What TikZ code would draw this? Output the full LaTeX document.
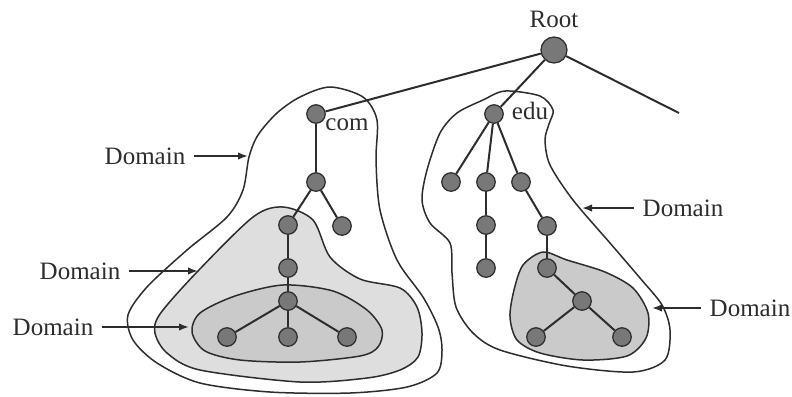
\documentclass[tikz,border=0pt]{standalone}
\usepackage{fontspec}
\setmainfont{Liberation Serif}
\usetikzlibrary{arrows.meta}
\definecolor{hostgray}{RGB}{120,120,120}
\definecolor{lightdom}{RGB}{222,222,222}
\definecolor{darkdom}{RGB}{202,202,202}
\definecolor{inkgray}{RGB}{45,45,45}
\begin{document}
\begin{tikzpicture}[x=0.4pt, y=-0.4pt,
  dom/.style={draw=inkgray, line width=0.6pt},
  host/.style={circle, draw=inkgray, fill=hostgray, line width=0.5pt,
    inner sep=0pt, minimum size=7.4pt},
  link/.style={draw=inkgray, line width=0.8pt},
  lbl/.style={font=\fontsize{10}{12}\selectfont, text=inkgray},
  arr/.style={-{Latex[length=4pt,width=3pt]}, draw=inkgray, line width=0.7pt}
]
\useasboundingbox (0,0) rectangle (792,396);
% domains
\draw[dom] plot[smooth cycle] coordinates {(330,87) (363,97) (377,120) (376,160)
  (380,210) (397,260) (423,297) (438,327) (442,350) (437,373) (407,387) (350,393)
  (270,392) (200,383) (157,363) (133,340) (128,315) (147,287) (187,250) (227,217)
  (243,190) (249,157) (258,135) (277,113) (300,97)};
\draw[dom, fill=lightdom] plot[smooth cycle] coordinates {(283,207) (313,220)
  (330,257) (360,279) (400,288) (417,307) (422,333) (418,357) (400,370) (367,378)
  (300,382) (200,370) (167,353) (155,333) (160,314) (197,272) (253,217)};
\draw[dom, fill=darkdom] plot[smooth cycle] coordinates {(283,285) (333,291)
  (367,310) (382,330) (378,347) (360,356) (300,362) (240,360) (205,351) (192,332)
  (200,313) (235,296)};
\draw[dom] plot[smooth cycle] coordinates {(505,91) (540,96) (553,110) (549,124)
  (545,140) (550,165) (573,200) (610,243) (640,278) (662,305) (670,330) (665,360)
  (633,372) (567,366) (500,350) (473,333) (456,307) (452,273) (450,243) (430,223)
  (422,200) (427,170) (440,133) (457,113) (483,100)};
\draw[dom, fill=darkdom] plot[smooth cycle] coordinates {(543,252) (567,260)
  (605,272) (633,288) (648,313) (646,338) (627,356) (583,360) (540,353) (517,340)
  (510,317) (514,290) (523,265)};
% hosts
\node[host, minimum size=10.4pt] (root) at (554,50) {};
\node[host] (com) at (316,114) {};
\node[host] (c1) at (316,182) {};
\node[host] (c2) at (288,225) {};
\node[host] (c3) at (342,226) {};
\node[host] (c4) at (288,268) {};
\node[host] (c5) at (288,301) {};
\node[host] (c6) at (227,337) {};
\node[host] (c7) at (288,337) {};
\node[host] (c8) at (347,337) {};
\node[host] (edu) at (494,114) {};
\node[host] (e1) at (451,182) {};
\node[host] (e2) at (486,182) {};
\node[host] (e3) at (521,182) {};
\node[host] (e4) at (486,225) {};
\node[host] (e5) at (486,268) {};
\node[host] (e6) at (547,226) {};
\node[host] (e7) at (547,268) {};
\node[host] (e8) at (582,301) {};
\node[host] (e9) at (536,337) {};
\node[host] (e10) at (622,337) {};
\coordinate (rend) at (679,113);
% links
\draw[link] (root) -- (com);
\draw[link] (root) -- (edu);
\draw[link] (root) -- (rend);
\draw[link] (com) -- (c1);
\draw[link] (c1) -- (c2);
\draw[link] (c1) -- (c3);
\draw[link] (c2) -- (c4);
\draw[link] (c4) -- (c5);
\draw[link] (c5) -- (c6);
\draw[link] (c5) -- (c7);
\draw[link] (c5) -- (c8);
\draw[link] (edu) -- (e1);
\draw[link] (edu) -- (e2);
\draw[link] (edu) -- (e3);
\draw[link] (e2) -- (e4);
\draw[link] (e4) -- (e5);
\draw[link] (e3) -- (e6);
\draw[link] (e6) -- (e7);
\draw[link] (e7) -- (e8);
\draw[link] (e8) -- (e9);
\draw[link] (e8) -- (e10);
% labels
\node[lbl] (rootlbl) at (554,19) {Root};
\node[lbl] (comlbl) at (347,125) {com};
\node[lbl] (edulbl) at (530,111) {edu};
\node[lbl] (d1) at (145,156) {Domain};
\node[lbl] (d2) at (80,271) {Domain};
\node[lbl] (d3) at (53,327) {Domain};
\node[lbl] (d4) at (683,208) {Domain};
\node[lbl] (d5) at (750,308) {Domain};
\coordinate (t1) at (248,156);
\coordinate (t2) at (198,271);
\coordinate (t3) at (189,327);
\coordinate (t4) at (582,208);
\coordinate (t5) at (652,308);
\draw[arr] (d1) -- (t1);
\draw[arr] (d2) -- (t2);
\draw[arr] (d3) -- (t3);
\draw[arr] (d4) -- (t4);
\draw[arr] (d5) -- (t5);
\end{tikzpicture}
\end{document}
